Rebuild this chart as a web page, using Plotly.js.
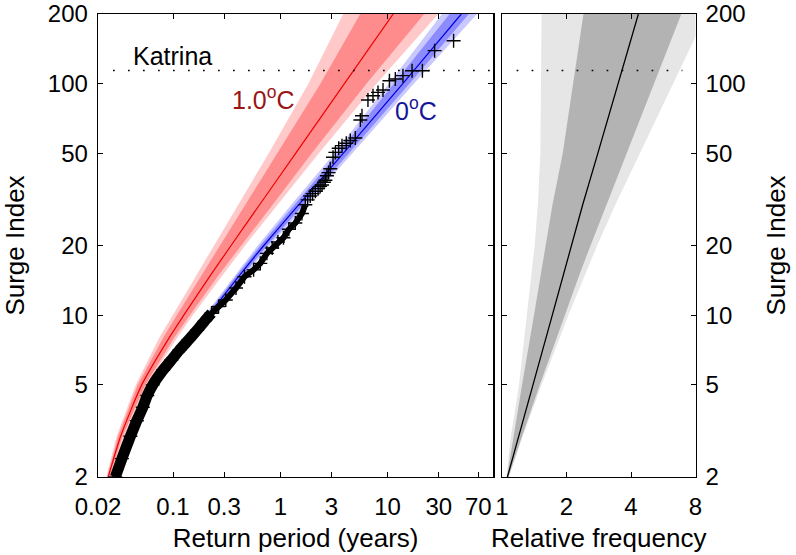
<!DOCTYPE html>
<html>
<head>
<meta charset="utf-8">
<script src="https://cdn.plot.ly/plotly-3.0.1.min.js"></script>
<style>html,body{margin:0;padding:0;background:#fff;}#chart{width:796px;height:555px;}</style>
</head>
<body>
<div id="chart"></div>
<script>
// ---- Left panel: return-level curves (surge index vs return period, years) ----
const surgeLevels = [2, 3, 5, 8, 10, 15, 20, 30, 50, 100, 200];
// 1.0 C warming
const warmCenter  = [0.0249, 0.0325, 0.0511, 0.0923, 0.1261, 0.2265, 0.3478, 0.6414, 1.389, 3.958, 11.28];
const warmDarkLo  = [0.02441, 0.03078, 0.04688, 0.08121, 0.1085, 0.1867, 0.2748, 0.4749, 0.9437, 2.364, 5.554];
const warmDarkHi  = [0.02548, 0.03391, 0.05507, 0.1028, 0.1434, 0.2690, 0.4311, 0.8478, 1.957, 6.346, 21.93];
const warmLightLo = [0.02390, 0.02981, 0.04492, 0.07455, 0.09957, 0.1677, 0.2416, 0.4087, 0.7780, 1.828, 3.857];
const warmLightHi = [0.02604, 0.03539, 0.05687, 0.1097, 0.1529, 0.2930, 0.4697, 0.9437, 2.275, 7.864, 29.62];
// 0 C (baseline)
const baseCenter  = [0.0272, 0.0382, 0.0675, 0.1419, 0.2133, 0.4239, 0.7018, 1.487, 3.857, 13.86, 48.64];
const baseDarkLo  = [0.02689, 0.03734, 0.06580, 0.1365, 0.2043, 0.3975, 0.6511, 1.351, 3.427, 11.42, 37.8];
const baseDarkHi  = [0.02748, 0.03898, 0.06927, 0.1475, 0.2226, 0.4518, 0.7565, 1.638, 4.340, 15.93, 57.13];
const baseLightLo = [0.02661, 0.03694, 0.06468, 0.1330, 0.1978, 0.3807, 0.6171, 1.266, 3.180, 10.26, 32.1];
const baseLightHi = [0.02778, 0.03940, 0.07048, 0.1513, 0.2299, 0.4718, 0.7983, 1.747, 4.679, 17.54, 68.1];

// observed surge events: dense low part, mid part, sparse tail
const obsLowPeriod = [0.0290, 0.0334, 0.0401, 0.0460, 0.0523, 0.0576, 0.0648, 0.0810, 0.0965, 0.1150, 0.1390, 0.1680, 0.1960, 0.2290];
const obsLowSurge  = [2.0, 2.4, 3.0, 3.5, 4.0, 4.5, 5.0, 5.8, 6.4, 7.07, 7.8, 8.63, 9.4, 10.2];
const obsMidPeriod = [0.2661, 0.3105, 0.3865, 0.4637, 0.564, 0.651, 0.75, 0.84, 0.95, 1.07, 1.20, 1.38, 1.59, 1.71];
const obsMidSurge  = [10.9, 11.63, 13.1, 14.66, 15.7, 16.75, 18.5, 19.5, 20.7, 21.6, 23.5, 25.0, 27.5, 30.0];
const obsTailPeriod = [1.8, 1.90, 2.0, 2.12, 2.25, 2.35, 2.45, 2.55, 2.63, 2.72, 2.82, 2.92, 3.10, 3.26, 3.50, 3.76, 4.12, 4.49, 5.0, 5.57, 5.77, 6.56, 7.31, 8.14, 9.06, 10.4, 11.8, 13.9, 16.9, 21.1, 27.4, 41.2];
const obsTailSurge  = [31.5, 32.7, 33.5, 34.3, 35.2, 36.0, 36.5, 37.5, 38.3, 40.0, 41.3, 42.9, 48.1, 50.5, 52.6, 54.0, 55.3, 56.8, 58.3, 69.7, 72.7, 85.0, 88.7, 91.7, 93.9, 103.0, 104.8, 108.3, 113.8, 113.8, 138.9, 153.3];

// Katrina reference level
const katrinaLevel = 114;
const katrinaPeriodSpan = [0.0276, 100];
const katrinaFreqSpan = [1.17, 6.95];

// ---- Right panel: relative frequency ----
const rfLevels  = [2, 3, 5, 10, 15, 20, 30, 50, 100, 200];
const rfCenter  = [1.06, 1.20, 1.395, 1.717, 1.94, 2.11, 2.38, 2.80, 3.48, 4.33];
const rfDarkLo  = [1.055, 1.13, 1.24, 1.41, 1.52, 1.60, 1.72, 1.92, 2.15, 2.40];
const rfDarkHi  = [1.07, 1.24, 1.50, 1.96, 2.30, 2.59, 3.07, 3.80, 5.11, 6.87];
const rfLightLo = [1.05, 1.10, 1.20, 1.31, 1.37, 1.42, 1.47, 1.51, 1.52, 1.53];
const rfLightHi = [1.08, 1.25, 1.53, 2.04, 2.44, 2.78, 3.38, 4.39, 6.28, 8.99];

const periodTicks = [0.02, 0.1, 0.3, 1, 3, 10, 30, 70];
const periodTickText = ['0.02', '0.1', '0.3', '1', '3', '10', '30', '70'];
const freqTicks = [1, 2, 4, 8];
const surgeTicks = [2, 5, 10, 20, 50, 100, 200];

function band(lo, hi, levels, color, xa, ya) {
  return {
    x: lo.concat(hi.slice().reverse()),
    y: levels.concat(levels.slice().reverse()),
    xaxis: xa, yaxis: ya,
    type: 'scatter', mode: 'lines', fill: 'toself',
    fillcolor: color, line: {width: 0, color: color},
    hoverinfo: 'skip', showlegend: false
  };
}
const plusMarker = {symbol: 'cross-thin-open', size: 10, color: '#000', line: {width: 1.4, color: '#000'}};

const traces = [
  band(warmLightLo, warmLightHi, surgeLevels, '#ffc9c9', 'x', 'y'),
  band(warmDarkLo, warmDarkHi, surgeLevels, '#ff8c8c', 'x', 'y'),
  band(baseLightLo, baseLightHi, surgeLevels, '#c9c9ff', 'x', 'y'),
  band(baseDarkLo, baseDarkHi, surgeLevels, '#8c8cff', 'x', 'y'),
  {x: warmCenter, y: surgeLevels, xaxis: 'x', yaxis: 'y', type: 'scatter', mode: 'lines',
   line: {color: '#ee0000', width: 1.2, shape: 'spline', smoothing: 0.6}, showlegend: false},
  {x: baseCenter, y: surgeLevels, xaxis: 'x', yaxis: 'y', type: 'scatter', mode: 'lines',
   line: {color: '#0000dd', width: 1.2, shape: 'spline', smoothing: 0.6}, showlegend: false},
  {x: obsLowPeriod, y: obsLowSurge, xaxis: 'x', yaxis: 'y', type: 'scatter', mode: 'lines+markers',
   line: {color: '#000', width: 11, shape: 'spline', smoothing: 0.5}, marker: plusMarker, showlegend: false},
  {x: obsLowPeriod.slice(-1).concat(obsMidPeriod), y: obsLowSurge.slice(-1).concat(obsMidSurge),
   xaxis: 'x', yaxis: 'y', type: 'scatter', mode: 'lines+markers',
   line: {color: '#000', width: 6}, marker: plusMarker, showlegend: false},
  {x: obsTailPeriod, y: obsTailSurge, xaxis: 'x', yaxis: 'y', type: 'scatter', mode: 'markers',
   marker: plusMarker, showlegend: false},
  {x: katrinaPeriodSpan, y: [katrinaLevel, katrinaLevel], xaxis: 'x', yaxis: 'y', type: 'scatter', mode: 'lines',
   line: {color: '#000', width: 1.7, dash: '1.7px,13.3px'}, showlegend: false},
  band(rfLightLo, rfLightHi, rfLevels, '#e6e6e6', 'x2', 'y2'),
  band(rfDarkLo, rfDarkHi, rfLevels, '#b3b3b3', 'x2', 'y2'),
  {x: rfCenter, y: rfLevels, xaxis: 'x2', yaxis: 'y2', type: 'scatter', mode: 'lines',
   line: {color: '#000', width: 1.3}, showlegend: false},
  {x: katrinaFreqSpan, y: [katrinaLevel, katrinaLevel], xaxis: 'x2', yaxis: 'y2', type: 'scatter', mode: 'lines',
   line: {color: '#000', width: 1.7, dash: '1.7px,13.3px'}, showlegend: false}
];

const FONT = 'Liberation Sans, Arial, Helvetica, sans-serif';
const axisCommon = {
  showline: true, linecolor: '#000', linewidth: 1.3, mirror: 'ticks',
  ticks: 'inside', ticklen: 5, tickwidth: 1, tickcolor: '#000',
  showgrid: false, zeroline: false, type: 'log',
  tickfont: {family: FONT, size: 24, color: '#000'}
};
const yDomain = [78 / 555, 541 / 555];

const layout = {
  width: 796, height: 555,
  margin: {l: 0, r: 0, t: 0, b: 0},
  paper_bgcolor: '#fff', plot_bgcolor: '#fff',
  showlegend: false,
  font: {family: FONT, color: '#000'},
  xaxis: Object.assign({}, axisCommon, {
    domain: [98 / 796, 493.3 / 796], anchor: 'y',
    range: [Math.log10(0.02), 1.985],
    tickmode: 'array', tickvals: periodTicks, ticktext: periodTickText,
    ticklabelstandoff: 8,
    title: {text: 'Return period (years)', font: {family: FONT, size: 26, color: '#000'}, standoff: 9}
  }),
  yaxis: Object.assign({}, axisCommon, {
    domain: yDomain, anchor: 'x',
    range: [Math.log10(2), Math.log10(200)],
    tickmode: 'array', tickvals: surgeTicks, ticktext: surgeTicks.map(String),
    ticklabelstandoff: 4,
    title: {text: 'Surge Index', font: {family: FONT, size: 26, color: '#000'}, standoff: 16}
  }),
  xaxis2: Object.assign({}, axisCommon, {
    domain: [502 / 796, 695.5 / 796], anchor: 'y2',
    range: [0, Math.log10(8)],
    tickmode: 'array', tickvals: freqTicks, ticktext: freqTicks.map(String),
    ticklabelstandoff: 8,
    title: {text: 'Relative frequency', font: {family: FONT, size: 26, color: '#000'}, standoff: 9}
  }),
  yaxis2: Object.assign({}, axisCommon, {
    domain: yDomain, anchor: 'x2', side: 'right',
    range: [Math.log10(2), Math.log10(200)],
    tickmode: 'array', tickvals: surgeTicks, ticktext: surgeTicks.map(String),
    ticklabelstandoff: 4,
    title: {text: 'Surge Index', font: {family: FONT, size: 26, color: '#000'}, standoff: 22}
  }),
  annotations: [
    {text: 'Katrina', xref: 'paper', yref: 'paper', x: 172 / 796, y: 1 - 56 / 555,
     xanchor: 'center', yanchor: 'middle', showarrow: false,
     font: {family: FONT, size: 25, color: '#000'}},
    {text: '1.0<sup>o</sup>C', xref: 'paper', yref: 'paper', x: 263 / 796, y: 1 - 98 / 555,
     xanchor: 'center', yanchor: 'middle', showarrow: false,
     font: {family: FONT, size: 25, color: '#9a1515'}},
    {text: '0<sup>o</sup>C', xref: 'paper', yref: 'paper', x: 416 / 796, y: 1 - 109 / 555,
     xanchor: 'center', yanchor: 'middle', showarrow: false,
     font: {family: FONT, size: 25, color: '#15159a'}}
  ]
};

Plotly.newPlot('chart', traces, layout, {staticPlot: true, displayModeBar: false});
</script>
</body>
</html>
